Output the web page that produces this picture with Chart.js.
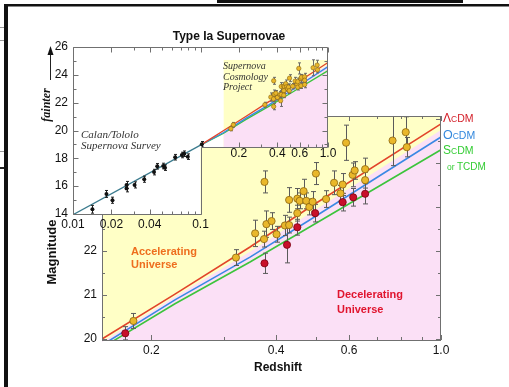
<!DOCTYPE html>
<html>
<head>
<meta charset="utf-8">
<script src="https://cdn.jsdelivr.net/npm/chart.js@4.4.1/dist/chart.umd.min.js"></script>
<style>
  html, body { margin: 0; padding: 0; background: #fff; }
  #wrap { position: relative; width: 509px; height: 387px; overflow: hidden; }
  canvas { position: absolute; left: 0; top: 0; }
</style>
</head>
<body>
<div id="wrap">
  <canvas id="mainChart" width="509" height="387"></canvas>
  <canvas id="insetChart" width="509" height="387"></canvas>
</div>
<script>
// Supernova Cosmology Project, yellow points (redshift, magnitude, error)
const scpZ   = [0.181, 0.320, 0.356, 0.375, 0.374, 0.379, 0.390, 0.401, 0.420, 0.430, 0.430, 0.450, 0.456, 0.466, 0.473, 0.481, 0.490, 0.450, 0.499, 0.528, 0.552, 0.572, 0.579, 0.590, 0.612, 0.619, 0.656, 0.656, 0.764, 0.822, 0.827];
const scpMag = [20.41, 21.85, 22.40, 23.57, 22.27, 22.61, 22.68, 22.38, 22.58, 22.59, 23.16, 23.19, 23.14, 23.36, 23.14, 23.00, 23.12, 22.86, 23.76, 23.18, 23.55, 23.31, 23.51, 24.46, 23.73, 23.83, 23.86, 23.61, 24.51, 24.70, 24.36];
const scpErr = [0.17, 0.18, 0.30, 0.25, 0.18, 0.30, 0.19, 0.18, 0.23, 0.18, 0.28, 0.23, 0.18, 0.27, 0.18, 0.18, 0.23, 0.18, 0.25, 0.19, 0.27, 0.18, 0.25, 0.40, 0.27, 0.20, 0.25, 0.18, 0.57, 0.35, 0.22];

// red points
const redZ   = [0.173, 0.375, 0.425, 0.450, 0.497, 0.579, 0.614, 0.656];
const redMag = [20.13, 21.72, 22.14, 22.54, 22.86, 23.11, 23.22, 23.30];
const redErr = [0.15, 0.23, 0.41, 0.18, 0.20, 0.20, 0.20, 0.23];

// Calan/Tololo (inset, low redshift)
const ctZ   = [0.0142, 0.0183, 0.0204, 0.0263, 0.0263, 0.0304, 0.0362, 0.0432, 0.0458, 0.0510, 0.0527, 0.0633, 0.0714, 0.0746, 0.0795, 0.1024];
const ctMag = [14.34, 15.44, 14.99, 16.09, 15.84, 16.09, 16.50, 17.01, 17.43, 17.45, 17.33, 18.08, 18.24, 18.33, 18.12, 19.01];
const ctErr = [0.28, 0.25, 0.22, 0.25, 0.25, 0.22, 0.22, 0.20, 0.20, 0.20, 0.20, 0.20, 0.20, 0.20, 0.20, 0.20];

// model curves
const modelZ  = [0.152, 0.228, 0.346, 0.483, 1.0];
const lcdmMag = [20.00, 21.02, 22.09, 23.00, 24.89];
const ocdmMag = [19.86, 20.89, 21.86, 22.71, 24.59];
const scdmMag = [19.80, 20.80, 21.75, 22.55, 24.30];
// accelerating / decelerating boundary
const bndMag  = [19.93, 20.96, 21.98, 22.86, 24.75];
// low-z line of the inset
const lowZ   = [0.01, 0.1];
const lowMag = [13.95, 18.95];

// ticks
const mainXLabels = [0.2, 0.4, 0.6, 1.0];
const mainXMinor  = [0.3, 0.5, 0.7, 0.8, 0.9];
const mainYLabels = [20, 21, 22];
const mainYMajor  = [20, 21, 22, 23, 24, 25];
const mainYMinor  = [20.5, 21.5, 22.5, 23.5, 24.5];
const insetXLow   = [0.01, 0.02, 0.04, 0.1];
const insetXHigh  = [0.2, 0.4, 0.6, 1.0];
const insetXMinor = [0.03, 0.05, 0.06, 0.07, 0.08, 0.09, 0.3, 0.5, 0.7, 0.8, 0.9];
const insetYLabels = [14, 16, 18, 20, 22, 24, 26];
const insetYMinor  = [15, 17, 19, 21, 23, 25];

const MAIN_Z = [0.152, 1.0];
const MAIN_MAG = [19.977, 25.068];
const CUT_Z = 0.1, CUT_MAG = 18.82;

const FONT = '"Liberation Sans", Arial, sans-serif';
const SERIF = '"Liberation Serif", "Times New Roman", serif';
const YELLOW = '#FFFFC6';
const PINK = '#FBE0F6';
const AXIS = '#707070';

function pts(xs, ys) { return xs.map((v, i) => ({ x: v, y: ys[i] })); }

function errorBars(chart, zs, ms, es, cap, color) {
  const { ctx, scales: { x, y } } = chart;
  ctx.save();
  ctx.strokeStyle = color;
  ctx.lineWidth = 1;
  ctx.beginPath();
  zs.forEach((z, i) => {
    const px = Math.round(x.getPixelForValue(z)) + 0.5;
    const y1 = y.getPixelForValue(ms[i] - es[i]);
    const y2 = y.getPixelForValue(ms[i] + es[i]);
    ctx.moveTo(px, y1); ctx.lineTo(px, y2);
    ctx.moveTo(px - cap, y1); ctx.lineTo(px + cap, y1);
    ctx.moveTo(px - cap, y2); ctx.lineTo(px + cap, y2);
  });
  ctx.stroke();
  ctx.restore();
}

function tickX(ctx, scale, values, yPix, len) {
  values.forEach(v => {
    const px = Math.round(scale.getPixelForValue(v)) + 0.5;
    ctx.moveTo(px, yPix); ctx.lineTo(px, yPix + len);
  });
}
function tickY(ctx, scale, values, xPix, len) {
  values.forEach(v => {
    const py = Math.round(scale.getPixelForValue(v)) + 0.5;
    ctx.moveTo(xPix, py); ctx.lineTo(xPix + len, py);
  });
}

// yellow box + pink area under the boundary
function paintRegions(chart, magBottom) {
  const { ctx, scales: { x, y } } = chart;
  const x0 = x.getPixelForValue(MAIN_Z[0]), x1 = x.getPixelForValue(MAIN_Z[1]);
  const yT = y.getPixelForValue(MAIN_MAG[1]), yB = y.getPixelForValue(magBottom);
  ctx.fillStyle = YELLOW;
  ctx.fillRect(x0, yT, x1 - x0, yB - yT);
  ctx.beginPath();
  modelZ.forEach((z, i) => {
    const px = x.getPixelForValue(z), py = y.getPixelForValue(bndMag[i]);
    if (i) ctx.lineTo(px, py); else ctx.moveTo(px, py);
  });
  ctx.lineTo(x1, yB); ctx.lineTo(x0, yB); ctx.closePath();
  ctx.fillStyle = PINK;
  ctx.fill();
}

function richText(ctx, parts, x, y, color) {
  ctx.fillStyle = color;
  parts.forEach(([t, size]) => {
    ctx.font = size + 'px ' + FONT;
    ctx.fillText(t, x, y);
    x += ctx.measureText(t).width;
  });
}

const mainPlugin = {
  id: 'mainDeco',
  beforeDraw(chart) {
    chart.ctx.save();
    paintRegions(chart, MAIN_MAG[0]);
    chart.ctx.restore();
  },
  beforeDatasetDraw(chart, args) {
    if (args.index !== 0) return;
    const a = chart.chartArea, ctx = chart.ctx;
    ctx.save();
    ctx.beginPath(); ctx.rect(a.left, a.top, a.right - a.left, a.bottom - a.top); ctx.clip();
    errorBars(chart, scpZ, scpMag, scpErr, 2.5, '#5a5a5a');
    errorBars(chart, redZ, redMag, redErr, 2.5, '#5a5a5a');
    ctx.restore();
  },
  afterDraw(chart) {
    const { ctx, chartArea: a, scales: { x, y } } = chart;
    ctx.save();
    ctx.strokeStyle = AXIS; ctx.lineWidth = 1;
    ctx.strokeRect(Math.round(a.left) + 0.5, Math.round(a.top) + 0.5, Math.round(a.right - a.left) - 1, Math.round(a.bottom - a.top));
    ctx.beginPath();
    tickX(ctx, x, mainXLabels, a.bottom, -5); tickX(ctx, x, mainXMinor, a.bottom, -3);
    tickX(ctx, x, mainXLabels, a.top, 5); tickX(ctx, x, mainXMinor, a.top, 3);
    tickY(ctx, y, mainYMajor, a.left, 5); tickY(ctx, y, mainYMinor, a.left, 3);
    tickY(ctx, y, mainYMajor, a.right, -5); tickY(ctx, y, mainYMinor, a.right, -3);
    ctx.stroke();

    ctx.fillStyle = '#111';
    ctx.textAlign = 'center'; ctx.textBaseline = 'middle';
    ctx.font = 'bold 12px ' + FONT;
    ctx.fillText('Redshift', 278, 368);
    ctx.save();
    ctx.translate(52, 252); ctx.rotate(-Math.PI / 2);
    ctx.font = 'bold 13px ' + FONT;
    ctx.fillText('Magnitude', 0, 0);
    ctx.restore();

    ctx.textAlign = 'left'; ctx.textBaseline = 'alphabetic';
    ctx.font = 'bold 11px ' + FONT;
    ctx.fillStyle = '#EE6E1E';
    ctx.fillText('Accelerating', 131, 255);
    ctx.fillText('Universe', 131, 268);
    ctx.fillStyle = '#E0142E';
    ctx.fillText('Decelerating', 337, 298);
    ctx.fillText('Universe', 337, 313);

    richText(ctx, [['Λ', 12], ['C', 8.5], ['DM', 10.5]], 443, 122, '#D4202A');
    richText(ctx, [['O', 12.5], ['C', 8.5], ['DM', 10.5]], 443, 139, '#3388DD');
    richText(ctx, [['S', 12], ['C', 8.5], ['DM', 10.5]], 443, 154, '#33CC33');
    richText(ctx, [['or ', 8.5], ['TCDM', 10]], 447, 170, '#33CC33');

    // page frame
    ctx.fillStyle = '#111';
    ctx.fillRect(4, 4, 505, 2.5);
    ctx.fillRect(4, 4, 4, 383);
    ctx.fillRect(217, 0, 246, 3);
    ctx.fillStyle = '#999';
    ctx.fillRect(0, 27, 4, 1);
    ctx.fillRect(0, 40, 4, 1);
    ctx.fillRect(0, 151, 4, 1);
    ctx.fillStyle = '#222';
    ctx.fillRect(0, 167, 4, 2);
    ctx.restore();
  }
};

function insetPath(chart) {
  const { chartArea: a, scales: { x, y } } = chart;
  const xc = x.getPixelForValue(CUT_Z), yc = y.getPixelForValue(CUT_MAG);
  const p = new Path2D();
  p.moveTo(a.left, a.top); p.lineTo(a.right, a.top); p.lineTo(a.right, yc);
  p.lineTo(xc, yc); p.lineTo(xc, a.bottom); p.lineTo(a.left, a.bottom); p.closePath();
  return p;
}

const insetPlugin = {
  id: 'insetDeco',
  beforeDraw(chart) {
    const ctx = chart.ctx;
    const path = insetPath(chart);
    ctx.save();
    ctx.fillStyle = '#fff';
    ctx.fill(path);
    ctx.clip(path);
    paintRegions(chart, 14);
    ctx.restore();
  },
  beforeDatasetsDraw(chart) {
    chart.ctx.save();
    chart.ctx.clip(insetPath(chart));
  },
  afterDatasetsDraw(chart) {
    chart.ctx.restore();
  },
  beforeDatasetDraw(chart, args) {
    if (args.index !== 0) return;
    errorBars(chart, ctZ, ctMag, ctErr, 1.5, '#222');
    errorBars(chart, scpZ, scpMag, scpErr, 1.5, '#6a6a6a');
    errorBars(chart, redZ, redMag, redErr, 1.5, '#6a6a6a');
  },
  afterDraw(chart) {
    const { ctx, chartArea: a, scales: { x, y } } = chart;
    const xc = Math.round(x.getPixelForValue(CUT_Z)) + 0.5;
    const yc = Math.round(y.getPixelForValue(CUT_MAG)) + 0.5;
    const L = Math.round(a.left) + 0.5, R = Math.round(a.right) - 0.5;
    const T = Math.round(a.top) + 0.5, B = Math.round(a.bottom) + 0.5;
    ctx.save();
    ctx.strokeStyle = AXIS; ctx.lineWidth = 1;
    ctx.beginPath();
    ctx.moveTo(L, B); ctx.lineTo(L, T); ctx.lineTo(R, T); ctx.lineTo(R, yc);
    ctx.lineTo(xc, yc); ctx.lineTo(xc, B); ctx.lineTo(L, B);
    ctx.stroke();

    ctx.beginPath();
    tickX(ctx, x, insetXLow.concat(insetXHigh), T, 5);
    tickX(ctx, x, insetXMinor, T, 3);
    tickX(ctx, x, insetXLow, B, -5);
    tickX(ctx, x, insetXMinor.filter(v => v < CUT_Z), B, -3);
    tickX(ctx, x, insetXHigh, yc, -5);
    tickX(ctx, x, insetXMinor.filter(v => v > CUT_Z), yc, -3);
    tickY(ctx, y, insetYLabels, L, 5); tickY(ctx, y, insetYMinor, L, 3);
    tickY(ctx, y, insetYLabels.filter(v => v > CUT_MAG), R, -5);
    tickY(ctx, y, insetYMinor.filter(v => v > CUT_MAG), R, -3);
    ctx.stroke();

    ctx.fillStyle = '#111';
    ctx.textAlign = 'center'; ctx.textBaseline = 'middle';
    ctx.font = '12px ' + FONT;
    insetXLow.forEach(v => ctx.fillText(String(v), x.getPixelForValue(v), 225));
    insetXHigh.forEach(v => ctx.fillText(v === 1 ? '1.0' : String(v), x.getPixelForValue(v), 154));

    ctx.font = 'bold 12px ' + FONT;
    ctx.fillText('Type Ia Supernovae', 229, 37);

    // fainter arrow
    ctx.beginPath();
    ctx.moveTo(50.5, 80); ctx.lineTo(50.5, 54);
    ctx.strokeStyle = '#222'; ctx.stroke();
    ctx.beginPath();
    ctx.moveTo(50.5, 46); ctx.lineTo(47.5, 55); ctx.lineTo(53.5, 55); ctx.closePath();
    ctx.fillStyle = '#111'; ctx.fill();
    ctx.save();
    ctx.translate(46.5, 105); ctx.rotate(-Math.PI / 2);
    ctx.font = 'italic bold 12px ' + SERIF;
    ctx.fillText('fainter', 0, 0);
    ctx.restore();

    ctx.textAlign = 'left'; ctx.textBaseline = 'alphabetic';
    ctx.fillStyle = '#333';
    ctx.font = 'italic 11px ' + SERIF;
    ctx.fillText('Calan/Tololo', 81, 138);
    ctx.fillText('Supernova Survey', 81, 149);
    ctx.font = 'italic 10px ' + SERIF;
    ctx.fillText('Supernova', 223, 69);
    ctx.fillText('Cosmology', 223, 80);
    ctx.fillText('Project', 223, 90);
    ctx.restore();
  }
};

new Chart(document.getElementById('mainChart'), {
  type: 'scatter',
  data: {
    datasets: [
      { label: 'SCP', data: pts(scpZ, scpMag), pointRadius: 3.6, backgroundColor: '#E9B72A', borderColor: '#8A6410', borderWidth: 0.8, order: 1 },
      { label: 'SCP faint', data: pts(redZ, redMag), pointRadius: 3.6, backgroundColor: '#C8102A', borderColor: '#7A0010', borderWidth: 0.8, order: 0 },
      { label: 'ΛCDM', data: pts(modelZ, lcdmMag), showLine: true, pointRadius: 0, borderColor: '#E2442A', borderWidth: 1.6, order: 2 },
      { label: 'OCDM', data: pts(modelZ, ocdmMag), showLine: true, pointRadius: 0, borderColor: '#3A88E4', borderWidth: 1.6, order: 2 },
      { label: 'SCDM', data: pts(modelZ, scdmMag), showLine: true, pointRadius: 0, borderColor: '#3CC43C', borderWidth: 1.6, order: 2 }
    ]
  },
  options: {
    responsive: false,
    animation: false,
    devicePixelRatio: 1,
    layout: { padding: { left: 0, top: 116, right: 68, bottom: 0 } },
    plugins: { legend: { display: false }, tooltip: { enabled: false } },
    scales: {
      x: {
        type: 'logarithmic', min: MAIN_Z[0], max: MAIN_Z[1],
        grid: { display: false, drawTicks: false }, border: { display: false },
        afterBuildTicks: s => { s.ticks = mainXLabels.map(v => ({ value: v })); },
        afterFit: s => { s.height = 47; },
        ticks: { autoSkip: false, maxRotation: 0, padding: 3, color: '#111', font: { family: FONT, size: 12 },
                 callback: v => v === 1 ? '1.0' : String(v) }
      },
      y: {
        min: MAIN_MAG[0], max: MAIN_MAG[1],
        grid: { display: false, drawTicks: false }, border: { display: false },
        afterBuildTicks: s => { s.ticks = mainYLabels.map(v => ({ value: v })); },
        afterFit: s => { s.width = 102; },
        ticks: { autoSkip: false, padding: 5, color: '#111', font: { family: FONT, size: 12 }, callback: v => String(v) }
      }
    }
  },
  plugins: [mainPlugin]
});

const insetTop = pts(lowZ.slice(1), lowMag.slice(1));
new Chart(document.getElementById('insetChart'), {
  type: 'scatter',
  data: {
    datasets: [
      { label: 'SCP', data: pts(scpZ, scpMag).concat(pts(redZ, redMag)), pointRadius: 2.2, backgroundColor: '#E9B72A', borderColor: '#8A6410', borderWidth: 0.6, order: 1 },
      { label: 'Calan/Tololo', data: pts(ctZ, ctMag), pointRadius: 2, backgroundColor: '#111', borderColor: '#111', borderWidth: 0, order: 0 },
      { label: 'low z', data: pts(lowZ, lowMag), showLine: true, pointRadius: 0, borderColor: '#3B7B8E', borderWidth: 1.3, order: 2 },
      { label: 'ΛCDM', data: insetTop.concat(pts(modelZ, lcdmMag)), showLine: true, pointRadius: 0, borderColor: '#E2442A', borderWidth: 1.3, order: 2 },
      { label: 'OCDM', data: insetTop.concat(pts(modelZ, ocdmMag)), showLine: true, pointRadius: 0, borderColor: '#3A88E4', borderWidth: 1.3, order: 2 },
      { label: 'SCDM', data: insetTop.concat(pts(modelZ, scdmMag)), showLine: true, pointRadius: 0, borderColor: '#3CC43C', borderWidth: 1.3, order: 2 }
    ]
  },
  options: {
    responsive: false,
    animation: false,
    devicePixelRatio: 1,
    layout: { padding: { left: 0, top: 47, right: 181, bottom: 173 } },
    plugins: { legend: { display: false }, tooltip: { enabled: false } },
    scales: {
      x: { type: 'logarithmic', display: false, min: 0.01, max: 1 },
      y: {
        min: 14, max: 26,
        grid: { display: false, drawTicks: false }, border: { display: false },
        afterBuildTicks: s => { s.ticks = insetYLabels.map(v => ({ value: v })); },
        afterFit: s => { s.width = 73; },
        ticks: { autoSkip: false, padding: 5, color: '#111', font: { family: FONT, size: 12 }, callback: v => String(v) }
      }
    }
  },
  plugins: [insetPlugin]
});
</script>
</body>
</html>
